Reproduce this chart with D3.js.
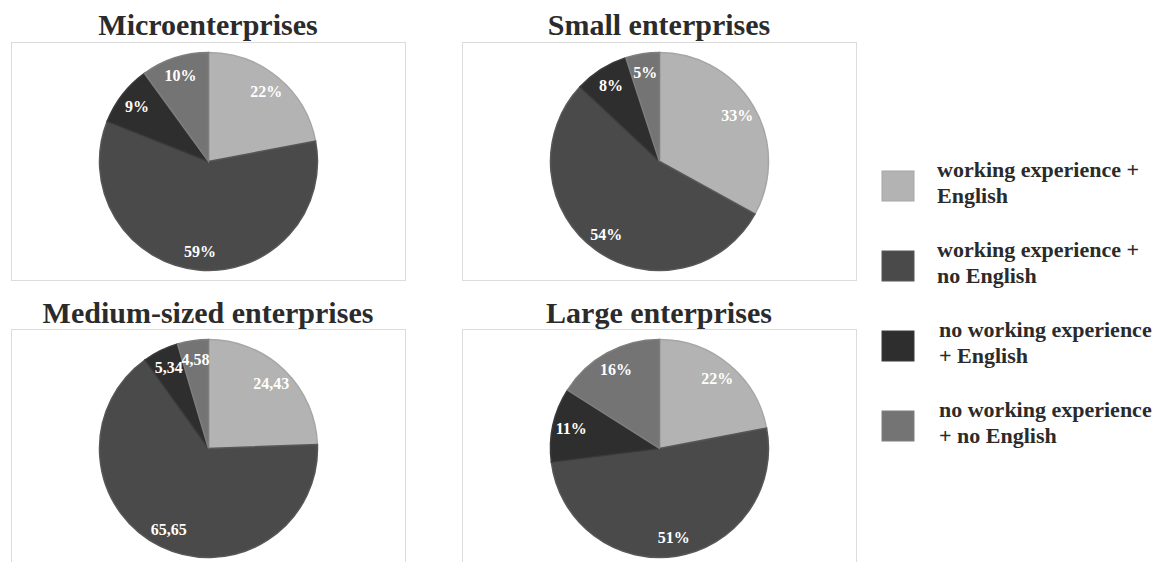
<!DOCTYPE html>
<html>
<head>
<meta charset="utf-8">
<script src="https://cdn.jsdelivr.net/npm/d3@7"></script>
<style>
  body { margin: 0; background: #fff; }
</style>
</head>
<body>
<svg class="chart" width="1156" height="562"></svg>
<script>
const categories = [
  ["working experience +", "English"],
  ["working experience +", "no English"],
  ["no working experience", "+ English"],
  ["no working experience", "+ no English"]
];
const titles = ["Microenterprises", "Small enterprises", "Medium-sized enterprises", "Large enterprises"];
const microValues = [22, 59, 9, 10];
const smallValues = [33, 54, 8, 5];
const mediumValues = [24.43, 65.65, 5.34, 4.58];
const largeValues = [22, 51, 11, 16];
const microLabels = ["22%", "59%", "9%", "10%"];
const smallLabels = ["33%", "54%", "8%", "5%"];
const mediumLabels = ["24,43", "65,65", "5,34", "4,58"];
const largeLabels = ["22%", "51%", "11%", "16%"];

const colors = ["#b3b3b3", "#4a4a4a", "#2e2e2e", "#747474"];
const strokes = ["#a6a6a6", "#575757", "#3a3a3a", "#7e7e7e"];
const serif = "'Liberation Serif', 'Times New Roman', Times, 'DejaVu Serif', serif";

const svg = d3.select(".chart").attr("font-family", serif);

const panels = [
  { title: titles[0], values: microValues, labels: microLabels, x: 11, y: 42, h: 238, titleY: 35 },
  { title: titles[1], values: smallValues, labels: smallLabels, x: 462, y: 42, h: 238, titleY: 35 },
  { title: titles[2], values: mediumValues, labels: mediumLabels, x: 11, y: 329, h: 250, titleY: 323 },
  { title: titles[3], values: largeValues, labels: largeLabels, x: 462, y: 329, h: 250, titleY: 323 }
];
const panelW = 394;
const radius = 109;

const pie = d3.pie().sort(null).value(d => d);
const arc = d3.arc().innerRadius(0).outerRadius(radius);
const labelArc = d3.arc().innerRadius(radius * 0.83).outerRadius(radius * 0.83);

panels.forEach(p => {
  const g = svg.append("g").attr("transform", `translate(${p.x},${p.y})`);

  g.append("rect")
    .attr("x", 0.5).attr("y", 0.5)
    .attr("width", panelW).attr("height", p.h)
    .attr("fill", "#fff")
    .attr("stroke", "#dcdcdc");

  svg.append("text")
    .attr("x", p.x + panelW / 2)
    .attr("y", p.titleY)
    .attr("text-anchor", "middle")
    .attr("font-size", 30)
    .attr("font-weight", "bold")
    .attr("fill", "#2b2b2b")
    .text(p.title);

  const pg = g.append("g").attr("transform", `translate(${panelW / 2 + 0.5},${119.5})`);
  const arcs = pie(p.values);

  pg.selectAll("path")
    .data(arcs)
    .enter()
    .append("path")
    .attr("d", arc)
    .attr("fill", (d, i) => colors[i])
    .attr("stroke", (d, i) => strokes[i])
    .attr("stroke-width", 1.5);

  pg.selectAll("text")
    .data(arcs)
    .enter()
    .append("text")
    .attr("transform", d => `translate(${labelArc.centroid(d)})`)
    .attr("text-anchor", "middle")
    .attr("dy", "0.35em")
    .attr("font-size", 16)
    .attr("font-weight", "bold")
    .attr("fill", "#fff")
    .text((d, i) => p.labels[i]);
});

// legend
const legend = svg.append("g").attr("class", "legend");
const item = legend.selectAll("g")
  .data(categories)
  .enter()
  .append("g")
  .attr("transform", (d, i) => `translate(882,${171 + i * 80})`);

item.append("rect")
  .attr("width", 32).attr("height", 30)
  .attr("fill", (d, i) => colors[i])
  .attr("stroke", (d, i) => strokes[i]);

item.append("text")
  .attr("x", (d, i) => i >= 2 ? 57 : 55)
  .attr("font-size", 22)
  .attr("font-weight", "bold")
  .attr("fill", "#2b2b2b")
  .selectAll("tspan")
  .data(d => d)
  .enter()
  .append("tspan")
  .attr("x", function() { return d3.select(this.parentNode).attr("x"); })
  .attr("y", (d, i) => 6 + i * 26)
  .text(d => d);
</script>
</body>
</html>
